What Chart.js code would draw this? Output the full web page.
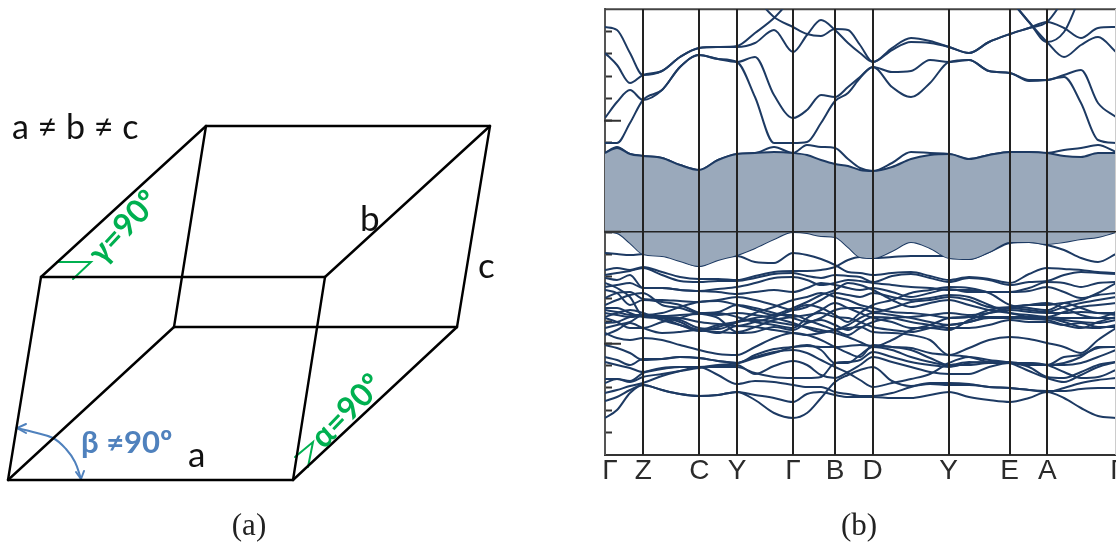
<!DOCTYPE html>
<html><head><meta charset="utf-8">
<script src="https://cdn.jsdelivr.net/npm/chart.js@4"></script>
<style>html,body{margin:0;padding:0;background:#fff;width:1116px;height:542px;overflow:hidden}
canvas{position:absolute;top:0}#cell{left:0}#bands{left:604px}</style></head>
<body><canvas id="cell" width="590" height="542"></canvas><canvas id="bands" width="512" height="542"></canvas>
<script>
// ---- panel (a): unit cell
const vertexX = [8,293,457,174,41,325,490,206];
const vertexY = [480,480,327,327,277,277,126,126];
const edges = [[0,1],[0,3],[0,4],[1,2],[1,5],[2,3],[2,6],[3,7],[4,5],[4,7],[5,6],[6,7]];
const gammaMarkX = [57,91,73], gammaMarkY = [262,262,279];
const alphaMarkX = [295,313,308], alphaMarkY = [457,442,467];
const betaArcX = [17,33,53,66,75,81], betaArcY = [428,432,438,449,462,479];
const betaHeadTopX = [26,17,26], betaHeadTopY = [424,428,433];
const betaHeadBottomX = [76,81,84], betaHeadBottomY = [472,479,471];
// ---- panel (b): band structure
const kPath = [0,12,25,38,57,75,94,113,132,150,169,188,202,216,230,243,255,268,287,306,325,344,364,384,405,424,442,459,476,493,511];
const kNodes = [38.3,94.3,132,188,230,267.7,343.7,404.7,442.3,510.7];
const labelK = [5,38.3,94.3,132,188,230,267.7,343.7,404.7,442.3,513];
const labelNames = ['Γ','Z','C','Y','Γ','B','D','Y','E','A','Γ'];
const minorTicks = [200.4,178.2,155.9,133.6,111.4,89.1,66.8,44.5,22.3,0,-22.3,-44.5,-66.8,-89.1,-111.4,-133.6,-155.9,-178.2,-200.4];
const majorTicks = [111.4,0,-111.4];
const frameK = [0,511], frameTop = [222.7,222.7];
const gapTop = [79,84,78,76,74,67,62,72,78,79,80,79,77,72,68,66,62,61,65,73,77,78,73,77,80,80,79,76,75,79,79];
const gapBottom = [0,-1,-11,-22,-24,-29,-34,-28,-23,-16,-7,0,-1,-4,-5,-15,-25,-26,-19,-10,-16,-26,-27,-20,-10,-10,-12,-10,-7,-5,0];
const c2 = [79,85,78,76,74,67,62,72,78,79,85,79,87,85,84,73,64,61,69,80,79,78,73,77,80,80,79,82,84,87,80];
const u1 = [205,202,179,157,161,175,184,185,186,199,214,235,250,250,250,250,250,250,250,250,250,250,250,250,232,210,190,175,187,195,180];
const u2 = [179,167,149,157,161,175,184,185,185,189,202,180,197,212,202,189,179,170,182,190,189,185,179,190,198,204,210,204,194,204,205];
const u3 = [250,250,250,250,250,250,250,250,250,235,215,205,198,196,203,202,187,170,184,194,191,185,179,190,198,204,210,232,250,250,250];
const u4 = [114,130,142,132,142,165,177,173,170,175,137,114,122,137,135,145,155,165,160,161,172,170,172,161,159,152,152,157,162,129,115];
const u5 = [89,89,109,132,142,165,177,173,170,135,89,89,90,109,131,139,154,165,145,135,149,170,172,161,159,151,152,155,129,92,89];
const u6 = [250,250,250,250,250,250,250,250,250,250,250,250,250,250,250,250,250,250,250,250,250,250,250,250,232,210,190,200,235,250,250];
const v2 = [-21,-22,-23,-22,-21,-28,-34,-26,-24,-30,-31,-21,-23,-27,-33,-40,-41,-43,-41,-40,-44,-48,-45,-47,-51,-42,-36,-37,-38,-40,-41];
const m1 = [-38,-36,-38,-35,-40,-45,-47,-47,-48,-44,-40,-39,-39,-38,-35,-28,-25,-26,-25,-24,-24,-24,-27,-20,-11,-10,-13,-18,-26,-30,-22];
const m2 = [-43,-41,-39,-36,-43,-49,-50,-49,-49,-46,-42,-41,-44,-46,-43,-44,-45,-50,-44,-42,-46,-50,-46,-48,-53,-50,-49,-43,-40,-41,-42];
const m3 = [-46,-48,-43,-56,-56,-58,-59,-57,-55,-51,-46,-45,-48,-53,-51,-48,-49,-51,-53,-55,-56,-58,-58,-60,-60,-56,-50,-51,-55,-51,-50];
const m4 = [-55,-53,-51,-56,-56,-58,-59,-60,-62,-60,-58,-60,-56,-51,-53,-56,-58,-56,-60,-65,-61,-57,-60,-60,-60,-59,-55,-60,-66,-63,-61];
const m5 = [-66,-61,-60,-67,-68,-69,-70,-68,-65,-68,-73,-78,-75,-68,-61,-63,-65,-61,-65,-68,-66,-63,-65,-73,-81,-83,-85,-80,-75,-73,-71];
const m6 = [-73,-68,-63,-61,-73,-76,-81,-80,-73,-76,-81,-86,-90,-86,-78,-76,-76,-80,-76,-70,-68,-65,-68,-75,-76,-78,-80,-75,-71,-68,-65];
const m7 = [-78,-80,-83,-83,-81,-75,-70,-69,-73,-78,-83,-83,-88,-93,-98,-103,-96,-90,-86,-85,-83,-81,-83,-81,-78,-80,-81,-81,-80,-81,-83];
const m8 = [-81,-83,-85,-84,-85,-90,-98,-93,-90,-88,-90,-93,-95,-98,-101,-105,-110,-115,-108,-98,-93,-86,-85,-85,-86,-87,-88,-93,-96,-90,-85];
const m9 = [-86,-90,-96,-96,-90,-86,-81,-83,-81,-83,-86,-91,-96,-100,-98,-93,-86,-81,-83,-86,-90,-93,-90,-86,-86,-86,-86,-88,-90,-91,-88];
const m10 = [-96,-93,-90,-83,-84,-83,-82,-81,-85,-90,-93,-96,-86,-78,-71,-76,-81,-86,-90,-96,-96,-98,-88,-81,-76,-73,-71,-76,-83,-86,-80];
const m11 = [-101,-106,-108,-106,-108,-113,-118,-122,-123,-115,-106,-101,-103,-108,-115,-121,-125,-113,-115,-116,-121,-123,-125,-130,-131,-132,-133,-131,-125,-115,-115];
const m12 = [-113,-116,-121,-128,-127,-125,-126,-129,-131,-123,-117,-115,-114,-115,-115,-114,-113,-114,-115,-118,-126,-133,-130,-131,-130,-133,-133,-125,-123,-116,-115];
const m13 = [-103,-98,-91,-96,-101,-100,-98,-101,-94,-95,-98,-101,-103,-101,-98,-96,-95,-100,-101,-103,-108,-123,-116,-108,-105,-107,-111,-115,-121,-108,-96];
const m14 = [-91,-90,-85,-83,-86,-93,-99,-95,-90,-86,-83,-76,-70,-63,-58,-51,-53,-58,-68,-75,-71,-68,-73,-78,-81,-85,-86,-90,-95,-96,-93];
const m15 = [-51,-56,-65,-84,-85,-86,-90,-92,-94,-90,-85,-78,-73,-76,-83,-90,-81,-73,-68,-61,-58,-55,-56,-61,-73,-76,-78,-71,-68,-61,-51];
const m16 = [-58,-61,-73,-68,-70,-73,-81,-86,-100,-95,-88,-85,-83,-81,-85,-86,-90,-95,-98,-100,-96,-93,-90,-85,-85,-85,-85,-86,-86,-86,-86];
const m17 = [-76,-76,-81,-85,-86,-88,-96,-97,-90,-81,-75,-68,-65,-61,-65,-68,-73,-76,-80,-81,-83,-86,-85,-78,-75,-73,-73,-71,-76,-81,-81];
const m18 = [-85,-81,-78,-81,-88,-93,-98,-100,-101,-100,-95,-98,-91,-88,-93,-98,-91,-85,-86,-90,-93,-96,-96,-93,-88,-90,-90,-93,-91,-95,-95];
const l1 = [-186,-178,-161,-153,-158,-162,-164,-163,-160,-168,-181,-186,-181,-166,-150,-143,-138,-135,-149,-154,-152,-153,-153,-155,-156,-158,-160,-156,-151,-148,-146];
const l2 = [-169,-165,-158,-153,-158,-162,-164,-163,-160,-163,-166,-170,-162,-160,-163,-165,-165,-165,-166,-166,-163,-160,-165,-168,-170,-166,-160,-166,-176,-184,-186];
const l3 = [-161,-158,-154,-151,-144,-139,-135,-143,-152,-149,-150,-153,-155,-155,-160,-162,-164,-164,-161,-155,-151,-151,-152,-155,-156,-158,-159,-159,-157,-156,-156];
const l4 = [-151,-147,-150,-145,-142,-139,-136,-134,-133,-142,-134,-129,-133,-143,-146,-140,-133,-125,-130,-135,-140,-142,-142,-135,-131,-131,-133,-140,-146,-145,-138];
const l5 = [-147,-147,-149,-141,-136,-135,-135,-135,-135,-141,-145,-146,-146,-145,-131,-130,-128,-120,-125,-130,-133,-135,-131,-130,-131,-135,-145,-146,-140,-133,-130];
const l6 = [-130,-133,-136,-140,-137,-135,-135,-133,-131,-125,-120,-118,-121,-128,-135,-141,-148,-155,-151,-147,-142,-131,-125,-128,-131,-139,-146,-150,-143,-135,-130];
const l7 = [-125,-128,-133,-127,-127,-125,-126,-129,-131,-126,-121,-115,-113,-118,-131,-131,-123,-115,-118,-125,-130,-133,-133,-131,-131,-131,-133,-133,-131,-125,-118];
const otherBands = [c2,u1,u2,u3,u4,u5,u6,v2,m1,m2,m3,m4,m5,m6,m7,m8,m9,m10,m11,m12,m13,m14,m15,m16,m17,m18,l1,l2,l3,l4,l5,l6,l7];

const BLACK='#000', GREEN='#00b050', BLUE='#4f81bd', BAND='#1d3a63', AXIS='#333';
const SANS='Lato, "Open Sans", sans-serif';
const pts=(xs,ys)=>xs.map((x,i)=>({x,y:ys[i]}));
const seg=(xs,ys,color,w,tension)=>({type:'scatter',showLine:true,data:pts(xs,ys),borderColor:color,borderWidth:w,pointRadius:0,tension:tension||0,borderCapStyle:'round',borderJoinStyle:'miter',fill:false});

const notesA = [
 {t:'a ≠ b ≠ c',x:12,y:139,font:'34px '+SANS,c:'#111'},
 {t:'a',x:188,y:467,font:'35px '+SANS,c:'#111'},
 {t:'b',x:360,y:231,font:'35px '+SANS,c:'#111'},
 {t:'c',x:478,y:278,font:'35px '+SANS,c:'#111'},
 {t:'β ≠90º',x:81,y:453,font:'bold 31px '+SANS,c:BLUE},
 {t:'γ=90º',x:102,y:266,font:'bold 32px '+SANS,c:GREEN,r:-47},
 {t:'α=90º',x:324,y:450,font:'bold 32px '+SANS,c:GREEN,r:-46},
 {t:'(a)',x:249,y:535,font:'31px "Liberation Serif"',c:'#222',a:'center'}
];
const notesPlugin=(notes)=>({id:'notes',afterDraw(ch){const g=ch.ctx;g.save();for(const n of notes){g.save();
  g.translate(ch.scales.x.getPixelForValue(n.x),ch.scales.y.getPixelForValue(n.y));
  if(n.r)g.rotate(n.r*Math.PI/180);g.font=n.font;g.fillStyle=n.c;g.textAlign=n.a||'left';g.textBaseline='alphabetic';g.fillText(n.t,0,0);g.restore();}g.restore();}});

new Chart(document.getElementById('cell'),{type:'scatter',
 data:{datasets:[
   ...edges.map(([p,q])=>seg([vertexX[p],vertexX[q]],[vertexY[p],vertexY[q]],BLACK,2.4)),
   seg(gammaMarkX,gammaMarkY,GREEN,2),seg(alphaMarkX,alphaMarkY,GREEN,2),
   seg(betaArcX,betaArcY,BLUE,2,0.4),seg(betaHeadTopX,betaHeadTopY,BLUE,2),seg(betaHeadBottomX,betaHeadBottomY,BLUE,2)]},
 options:{responsive:false,animation:false,layout:{padding:0,autoPadding:false},plugins:{legend:{display:false},tooltip:{enabled:false}},
  scales:{x:{type:'linear',display:false,min:0,max:590},y:{type:'linear',display:false,min:0,max:542,reverse:true}}},
 plugins:[notesPlugin(notesA)]});

const bandDs=(v,extra)=>Object.assign({type:'line',data:pts(kPath,v),borderColor:BAND,borderWidth:2,pointRadius:0,cubicInterpolationMode:'monotone',fill:false},extra||{});
new Chart(document.getElementById('bands'),{type:'line',
 data:{datasets:[
   bandDs(gapTop,{fill:{target:1,above:'#9aa9bb',below:'#9aa9bb'}}),
   bandDs(gapBottom),
   ...otherBands.map(v=>bandDs(v)),
   {type:'line',data:pts(frameK,frameTop),borderColor:'#444',borderWidth:2,pointRadius:0,clip:false,fill:false}]},
 options:{responsive:false,animation:false,parsing:true,layout:{padding:0,autoPadding:false},
  plugins:{legend:{display:false},tooltip:{enabled:false}},
  scales:{
   x:{type:'linear',min:0,max:511,position:'bottom',
      afterBuildTicks:s=>{s.ticks=labelK.map(value=>({value}));},
      afterFit:s=>{s.height=87.3;s.paddingLeft=0;s.paddingRight=0;},
      grid:{display:false,drawTicks:false},
      border:{display:true,color:AXIS,width:2},
      ticks:{autoSkip:false,maxRotation:0,minRotation:0,padding:0,color:'#2b2b2b',font:{family:'"Liberation Sans"',size:28},
        callback:(v,i)=>labelNames[i]}},
   x2:{type:'linear',min:0,max:511,position:'top',
      afterBuildTicks:s=>{s.ticks=kNodes.map(value=>({value}));},
      afterFit:s=>{s.height=9.3;s.paddingLeft=0;s.paddingRight=0;},
      ticks:{display:false},
      border:{display:false},
      grid:{z:1,drawTicks:false,lineWidth:2,color:c=>c.tick&&c.tick.value>510?'#ccc':'#222'}},
   y:{type:'linear',min:-222.7,max:222.7,position:'left',
      afterBuildTicks:s=>{s.ticks=minorTicks.map(value=>({value}));},
      afterFit:s=>{s.width=1;},
      ticks:{display:false},
      border:{display:true,color:'#555',width:2},
      grid:{drawOnChartArea:false,drawTicks:true,tickLength:-7,tickColor:'#333',tickWidth:2}},
   y2:{type:'linear',min:-222.7,max:222.7,position:'left',
      afterBuildTicks:s=>{s.ticks=majorTicks.map(value=>({value}));},
      afterFit:s=>{s.width=0;},
      ticks:{display:false},
      border:{display:false},
      grid:{z:1,drawTicks:true,tickLength:-17,tickColor:'#333',tickWidth:2,lineWidth:1.5,color:c=>c.tick&&c.tick.value===0?'#222':'rgba(0,0,0,0)'}}
  }},
 plugins:[notesPlugin([{t:'(b)',x:254,y:-303,font:'31px "Liberation Serif"',c:'#222',a:'center'}])]});
</script></body></html>
